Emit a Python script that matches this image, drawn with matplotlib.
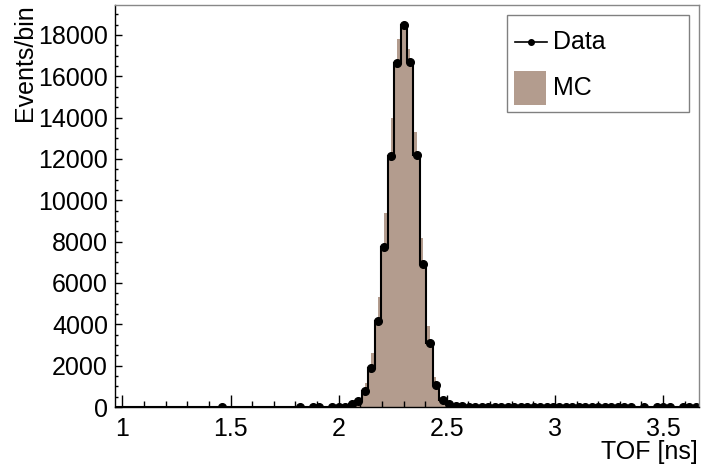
import matplotlib

matplotlib.use("Agg")
import matplotlib.pyplot as plt  # noqa: E402
import numpy as np  # noqa: E402
from matplotlib.lines import Line2D  # noqa: E402
from matplotlib.patches import Rectangle  # noqa: E402
from matplotlib.ticker import MultipleLocator, FormatStrFormatter  # noqa: E402

plt.rcParams["font.family"] = ["Liberation Sans", "DejaVu Sans"]

# binning (ns)
X_LO = 0.966
BIN_W = 0.03
N_BINS = 90

# data counts per 0.03 ns bin (k = 0..89)
data_counts = [
    0, 0, 0, 0, 0, 0, 0, 0, 0, 0, 0, 0, 0, 0, 0, 0,
    1, 0, 0, 0, 0, 0, 0, 0, 0, 0, 0, 0,
    1, 0, 2, 1, 0, 3, 6, 20,
    145, 290, 790, 1900, 4175, 7755, 12160, 16630, 18480,
    16700, 12180, 6920, 3100, 1060, 350, 145, 60, 30,
    22, 18, 15, 14, 12, 11, 10, 9, 9, 8, 7, 7, 6, 6, 5, 5,
    4, 4, 4, 3, 3, 3, 2, 2, 2, 2,
    0, 1, 0, 1, 1, 1, 0, 1, 1, 1,
]

# MC drawn with half-width bins (0.015 ns), first filled data bin is k = 34
mc_first_bin = 34
mc_counts = [
    10, 20, 30, 60,
    150, 200, 300, 450, 800, 1150, 1950, 2600, 4250, 5300,
    7800, 9400, 12200, 14000, 16700, 17800, 18500, 18500,
    17300, 16700, 13300, 12200, 8200, 6950, 3900, 3100,
    1450, 1070, 450, 350, 150, 140, 60, 50, 30, 20,
]

edges = X_LO + BIN_W * np.arange(N_BINS + 1)
centers = 0.5 * (edges[:-1] + edges[1:])
data = np.array(data_counts, dtype=float)

mc_w = BIN_W / 2
mc_lo = X_LO + mc_first_bin * BIN_W
mc_edges = mc_lo + mc_w * np.arange(len(mc_counts) + 1)

MC_COLOR = "#b39c8e"
W, H, DPI = 701, 469, 100

fig = plt.figure(figsize=(W / DPI, H / DPI), dpi=DPI)
ax = fig.add_axes([115 / W, 1 - 407 / H, 584 / W, 402 / H])

ax.stairs(mc_counts, mc_edges, fill=True, color=MC_COLOR, linewidth=0)
ax.stairs(data, edges, color="black", linewidth=1.5)
nz = data > 0
ax.plot(centers[nz], data[nz], "o", color="black", markersize=5.5)

ax.set_xlim(edges[0], edges[-1])
ax.set_ylim(0, 19450)

ax.xaxis.set_major_locator(MultipleLocator(0.5))
ax.xaxis.set_minor_locator(MultipleLocator(0.1))
ax.xaxis.set_major_formatter(FormatStrFormatter("%g"))
ax.yaxis.set_major_locator(MultipleLocator(2000))
ax.yaxis.set_minor_locator(MultipleLocator(500))

ax.tick_params(axis="both", which="both", direction="in", labelsize=18,
               top=False, right=False, width=1)
ax.tick_params(axis="x", which="major", length=8.5, pad=7)
ax.tick_params(axis="x", which="minor", length=4)
ax.tick_params(axis="y", which="major", length=5, pad=5)
ax.tick_params(axis="y", which="minor", length=2.5)

for side in ("left", "bottom"):
    ax.spines[side].set_color("black")
    ax.spines[side].set_linewidth(1)
for side in ("top", "right"):
    ax.spines[side].set_color("#888888")
    ax.spines[side].set_linewidth(1)

fig.text(25 / W, 1 - 4 / H, "Events/bin", rotation=90, ha="center", va="top",
         fontsize=18)
fig.text(698 / W, 1 - 452 / H, "TOF [ns]", ha="right", va="center", fontsize=18)


# legend box (axes coordinates)
def ax_xy(px, py):
    return (px - 115) / 584, (407 - py) / 402


x0, y1 = ax_xy(507, 15)
x1, y0 = ax_xy(689, 112)
ax.add_patch(Rectangle((x0, y0), x1 - x0, y1 - y0, transform=ax.transAxes,
                       facecolor="white", edgecolor="#808080", linewidth=1,
                       zorder=5))
lx0, ly = ax_xy(515, 42)
lx1, _ = ax_xy(547, 42)
ax.add_line(Line2D([lx0, lx1], [ly, ly], transform=ax.transAxes, color="black",
                   linewidth=1.2, zorder=6))
ax.add_line(Line2D([(lx0 + lx1) / 2], [ly], transform=ax.transAxes, color="black",
                   marker="o", markersize=4, zorder=6))
tx, _ = ax_xy(553, 42)
ax.text(tx, ly, "Data", transform=ax.transAxes, ha="left", va="center",
        fontsize=18, zorder=6)
px0, py1 = ax_xy(514, 71)
px1, py0 = ax_xy(546, 105)
ax.add_patch(Rectangle((px0, py0), px1 - px0, py1 - py0, transform=ax.transAxes,
                       facecolor=MC_COLOR, edgecolor="none", zorder=6))
_, my = ax_xy(0, 88)
ax.text(tx, my, "MC", transform=ax.transAxes, ha="left", va="center",
        fontsize=18, zorder=6)

fig.savefig("out.png", dpi=DPI)
